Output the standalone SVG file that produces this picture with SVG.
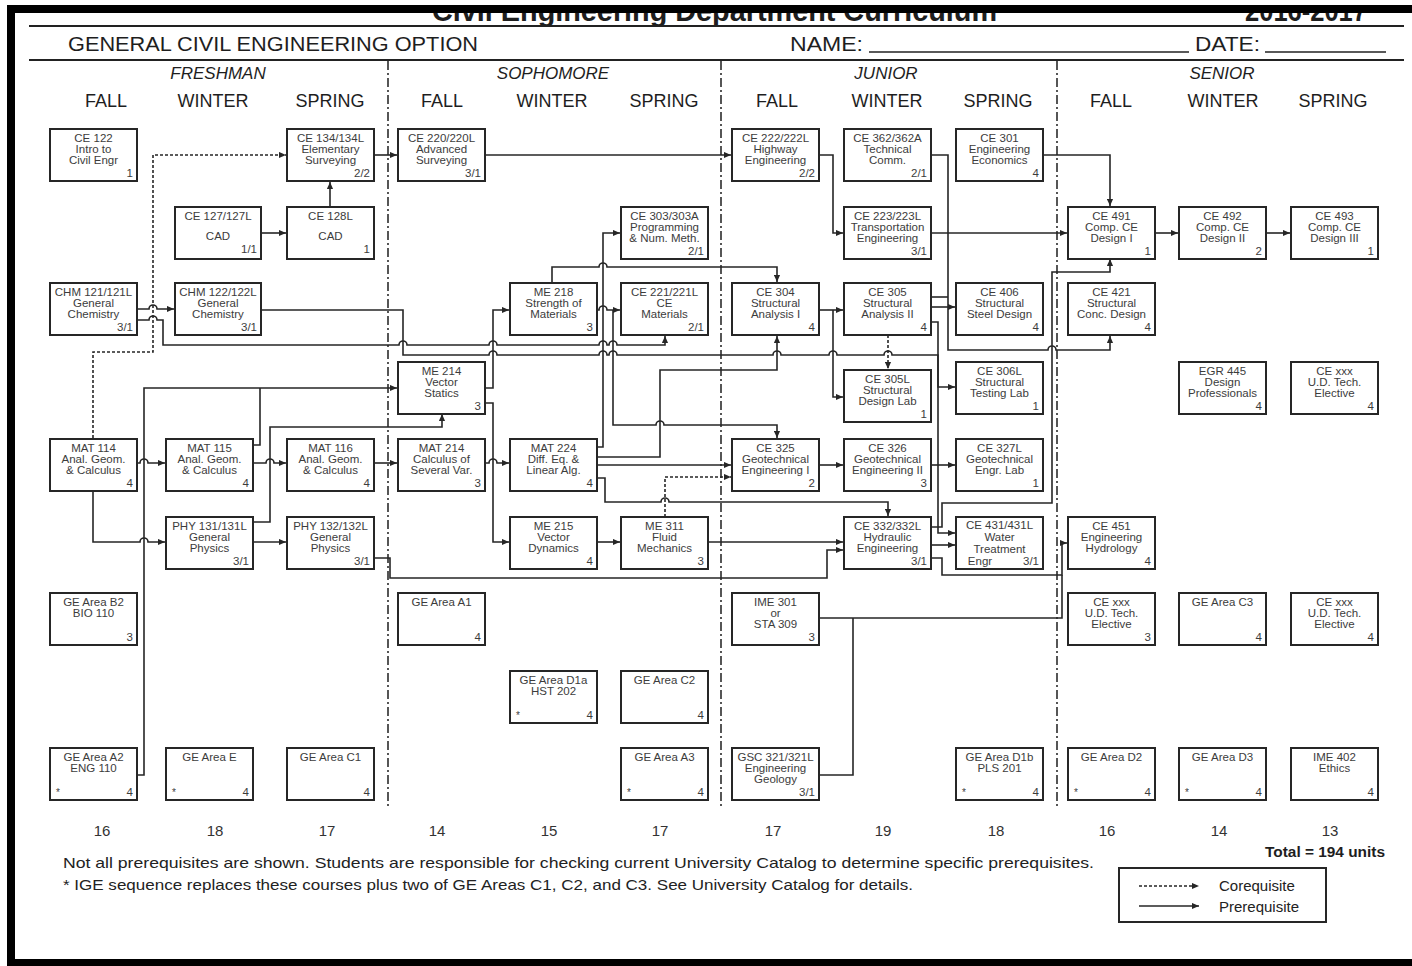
<svg xmlns="http://www.w3.org/2000/svg" width="1412" height="966" viewBox="0 0 1412 966">
<style>
.bx{fill:#fff;stroke:#262626;stroke-width:2}
.t{font-family:"Liberation Sans",Arial,sans-serif;font-size:11.5px;fill:#3c3c3c;text-anchor:middle}
.u{font-family:"Liberation Sans",Arial,sans-serif;font-size:11.5px;fill:#3c3c3c;text-anchor:end}
.st{font-family:"Liberation Sans",Arial,sans-serif;font-size:10px;fill:#3c3c3c;text-anchor:start}
.c{fill:none;stroke:#262626;stroke-width:1.6;marker-end:url(#ah)}
.j{fill:none;stroke:#262626;stroke-width:1.6}
.d{stroke-dasharray:3,2}
.sep{fill:none;stroke:#444;stroke-width:1.8;stroke-dasharray:9,3,2,3}
.hd{font-family:"Liberation Sans",Arial,sans-serif;fill:#1e1e1e}
.yr{font-family:"Liberation Sans",Arial,sans-serif;font-style:italic;font-size:17px;fill:#1e1e1e;text-anchor:middle}
.tm{font-family:"Liberation Sans",Arial,sans-serif;font-size:18px;fill:#1e1e1e;text-anchor:middle}
.un{font-family:"Liberation Sans",Arial,sans-serif;font-size:15px;fill:#333;text-anchor:middle}
.ft{font-family:"Liberation Sans",Arial,sans-serif;font-size:15px;fill:#222}
</style>
<defs>
<marker id="ah" viewBox="0 0 8 8" refX="8" refY="4" markerWidth="7" markerHeight="7" markerUnits="userSpaceOnUse" orient="auto"><path d="M0,0.5 L8,4 L0,7.5z" fill="#262626"/></marker>
</defs>
<rect x="0" y="0" width="1412" height="966" fill="#fff"/>
<g id="header">
<text class="hd" x="432" y="21" font-size="30" font-weight="bold" textLength="565" lengthAdjust="spacingAndGlyphs">Civil Engineering Department Curriculum</text>
<text class="hd" x="1245" y="21" font-size="30" font-weight="bold" textLength="122" lengthAdjust="spacingAndGlyphs">2016-2017</text>
<rect x="0" y="0" width="1412" height="5" fill="#fff"/>
<rect x="7" y="5" width="1405" height="8" fill="#000"/>
<rect x="7" y="5" width="8" height="961" fill="#000"/>
<rect x="7" y="959" width="1405" height="7" fill="#000"/>
<line x1="29" y1="26" x2="1404" y2="26" stroke="#222" stroke-width="2"/>
<line x1="29" y1="60" x2="1404" y2="60" stroke="#222" stroke-width="2"/>
<text class="hd" x="68" y="51" font-size="21" textLength="410" lengthAdjust="spacingAndGlyphs">GENERAL CIVIL ENGINEERING OPTION</text>
<text class="hd" x="790" y="51" font-size="21" textLength="73" lengthAdjust="spacingAndGlyphs">NAME:</text>
<line x1="869" y1="52" x2="1189" y2="52" stroke="#222" stroke-width="1.5"/>
<text class="hd" x="1195" y="51" font-size="21" textLength="65" lengthAdjust="spacingAndGlyphs">DATE:</text>
<line x1="1265" y1="52" x2="1386" y2="52" stroke="#222" stroke-width="1.5"/>
<text class="yr" x="218" y="79">FRESHMAN</text>
<text class="yr" x="553" y="79">SOPHOMORE</text>
<text class="yr" x="886" y="79">JUNIOR</text>
<text class="yr" x="1222" y="79">SENIOR</text>
<text class="tm" x="106" y="107">FALL</text>
<text class="tm" x="213" y="107">WINTER</text>
<text class="tm" x="330" y="107">SPRING</text>
<text class="tm" x="442" y="107">FALL</text>
<text class="tm" x="552" y="107">WINTER</text>
<text class="tm" x="664" y="107">SPRING</text>
<text class="tm" x="777" y="107">FALL</text>
<text class="tm" x="887" y="107">WINTER</text>
<text class="tm" x="998" y="107">SPRING</text>
<text class="tm" x="1111" y="107">FALL</text>
<text class="tm" x="1223" y="107">WINTER</text>
<text class="tm" x="1333" y="107">SPRING</text>
</g>
<g id="separators">
<line class="sep" x1="388" y1="61" x2="388" y2="807"/>
<line class="sep" x1="721" y1="61" x2="721" y2="807"/>
<line class="sep" x1="1057" y1="61" x2="1057" y2="807"/>
</g>
<g id="connectors">
<path class="c d" d="M93,438 V352 H153 V155 H286"/>
<path class="c" d="M261,233 H286"/>
<path class="c" d="M330,207 V182"/>
<path class="c" d="M373,155 H397"/>
<path class="c" d="M485,155 H731"/>
<path class="c" d="M137,309 H149 a4,4 0 0 1 8,0 H174"/>
<path class="c" d="M137,320 H149 a4,4 0 0 1 8,0 H163 V345 H399 a4,4 0 0 1 8,0 H489 a4,4 0 0 1 8,0 H599 a4,4 0 0 1 8,0 H609 a4,4 0 0 1 8,0 H665 V336"/>
<path class="c" d="M261,310 H403 V355 H489 a4,4 0 0 1 8,0 H599 a4,4 0 0 1 8,0 H609 a4,4 0 0 1 8,0 H773 a4,4 0 0 1 8,0 H829 a4,4 0 0 1 8,0 H884 a4,4 0 0 1 8,0 H938 V533 H955"/>
<path class="c" d="M932,322 H938 V387 H955"/>
<path class="c" d="M137,775 H144 V388 H397"/>
<path class="j" d="M253,445 H260 V388"/>
<path class="c" d="M137,463 H140 a4,4 0 0 1 8,0 H165"/>
<path class="c" d="M93,491 V542 H140 a4,4 0 0 1 8,0 H165"/>
<path class="c" d="M253,463 H266 a4,4 0 0 1 8,0 H286"/>
<path class="c" d="M253,542 H286"/>
<path class="c" d="M253,522 H270 V427 H442 V414"/>
<path class="c" d="M373,463 H397"/>
<path class="c" d="M485,388 H493 V310 H509"/>
<path class="c" d="M485,403 H493 V542 H509"/>
<path class="c" d="M485,463 H489 a4,4 0 0 1 8,0 H509"/>
<path class="c" d="M552,283 V267 H599 a4,4 0 0 1 8,0 H777 V282"/>
<path class="c" d="M597,310 H599 a4,4 0 0 1 8,0 H620"/>
<path class="c" d="M613,310 V425 H656 a4,4 0 0 1 8,0 H777 V438"/>
<path class="c" d="M597,447 H603 V233 H620"/>
<path class="c" d="M597,457 H660 V370 H777 V336"/>
<path class="c" d="M597,465 H731"/>
<path class="c" d="M597,478 H605 V502 H661 a4,4 0 0 1 8,0 H888 V516"/>
<path class="c d" d="M665,517 V477 H731"/>
<path class="c" d="M597,542 H620"/>
<path class="c" d="M708,542 H843"/>
<path class="c" d="M373,558 H390 V578 H827 V550 H843"/>
<path class="c" d="M820,155 H833 V233 H843"/>
<path class="c" d="M932,233 H1067"/>
<path class="c" d="M820,310 H843"/>
<path class="c" d="M833,310 V397 H843"/>
<path class="c d" d="M888,335 V369"/>
<path class="c" d="M932,155 H948 V350 H1048 a4,4 0 0 1 8,0 H1110 V336"/>
<path class="j" d="M932,297 H948"/>
<path class="c" d="M932,307 H955"/>
<path class="c" d="M820,465 H843"/>
<path class="c" d="M932,465 H955"/>
<path class="c" d="M932,527 H942 V503 H1052 V272 H1110 V259"/>
<path class="c" d="M932,545 H955"/>
<path class="c" d="M932,558 H942 V575 H1062 V543 H1067"/>
<path class="j" d="M820,618 H1062 V575"/>
<path class="j" d="M820,775 H853 V618"/>
<path class="c" d="M1043,155 H1110 V206"/>
<path class="c" d="M1155,233 H1178"/>
<path class="c" d="M1265,233 H1290"/>
</g>
<g id="ce122"><rect class="bx" x="50" y="129" width="87" height="52"/><text class="t" x="93.5" y="142">CE 122</text><text class="t" x="93.5" y="153">Intro to</text><text class="t" x="93.5" y="164">Civil Engr</text><text class="u" x="133" y="177">1</text></g>
<g id="ce134"><rect class="bx" x="287" y="129" width="87" height="52"/><text class="t" x="330.5" y="142">CE 134/134L</text><text class="t" x="330.5" y="153">Elementary</text><text class="t" x="330.5" y="164">Surveying</text><text class="u" x="370" y="177">2/2</text></g>
<g id="ce127"><rect class="bx" x="175" y="207" width="86" height="52"/><text class="t" x="218" y="220">CE 127/127L</text><text class="t" x="218" y="240">CAD</text><text class="u" x="257" y="253">1/1</text></g>
<g id="ce128l"><rect class="bx" x="287" y="207" width="87" height="52"/><text class="t" x="330.5" y="220">CE 128L</text><text class="t" x="330.5" y="240">CAD</text><text class="u" x="370" y="253">1</text></g>
<g id="chm121"><rect class="bx" x="50" y="283" width="87" height="52"/><text class="t" x="93.5" y="296">CHM 121/121L</text><text class="t" x="93.5" y="307">General</text><text class="t" x="93.5" y="318">Chemistry</text><text class="u" x="133" y="331">3/1</text></g>
<g id="chm122"><rect class="bx" x="175" y="283" width="86" height="52"/><text class="t" x="218" y="296">CHM 122/122L</text><text class="t" x="218" y="307">General</text><text class="t" x="218" y="318">Chemistry</text><text class="u" x="257" y="331">3/1</text></g>
<g id="mat114"><rect class="bx" x="50" y="439" width="87" height="52"/><text class="t" x="93.5" y="452">MAT 114</text><text class="t" x="93.5" y="463">Anal. Geom.</text><text class="t" x="93.5" y="474">&amp; Calculus</text><text class="u" x="133" y="487">4</text></g>
<g id="mat115"><rect class="bx" x="166" y="439" width="87" height="52"/><text class="t" x="209.5" y="452">MAT 115</text><text class="t" x="209.5" y="463">Anal. Geom.</text><text class="t" x="209.5" y="474">&amp; Calculus</text><text class="u" x="249" y="487">4</text></g>
<g id="mat116"><rect class="bx" x="287" y="439" width="87" height="52"/><text class="t" x="330.5" y="452">MAT 116</text><text class="t" x="330.5" y="463">Anal. Geom.</text><text class="t" x="330.5" y="474">&amp; Calculus</text><text class="u" x="370" y="487">4</text></g>
<g id="phy131"><rect class="bx" x="166" y="517" width="87" height="52"/><text class="t" x="209.5" y="530">PHY 131/131L</text><text class="t" x="209.5" y="541">General</text><text class="t" x="209.5" y="552">Physics</text><text class="u" x="249" y="565">3/1</text></g>
<g id="phy132"><rect class="bx" x="287" y="517" width="87" height="52"/><text class="t" x="330.5" y="530">PHY 132/132L</text><text class="t" x="330.5" y="541">General</text><text class="t" x="330.5" y="552">Physics</text><text class="u" x="370" y="565">3/1</text></g>
<g id="geb2"><rect class="bx" x="50" y="593" width="87" height="52"/><text class="t" x="93.5" y="606">GE Area B2</text><text class="t" x="93.5" y="617">BIO 110</text><text class="u" x="133" y="641">3</text></g>
<g id="gea2"><rect class="bx" x="50" y="748" width="87" height="52"/><text class="t" x="93.5" y="761">GE Area A2</text><text class="t" x="93.5" y="772">ENG 110</text><text class="st" x="56" y="796">*</text><text class="u" x="133" y="796">4</text></g>
<g id="gee"><rect class="bx" x="166" y="748" width="87" height="52"/><text class="t" x="209.5" y="761">GE Area E</text><text class="st" x="172" y="796">*</text><text class="u" x="249" y="796">4</text></g>
<g id="gec1"><rect class="bx" x="287" y="748" width="87" height="52"/><text class="t" x="330.5" y="761">GE Area C1</text><text class="u" x="370" y="796">4</text></g>
<g id="ce220"><rect class="bx" x="398" y="129" width="87" height="52"/><text class="t" x="441.5" y="142">CE 220/220L</text><text class="t" x="441.5" y="153">Advanced</text><text class="t" x="441.5" y="164">Surveying</text><text class="u" x="481" y="177">3/1</text></g>
<g id="me214"><rect class="bx" x="398" y="362" width="87" height="52"/><text class="t" x="441.5" y="375">ME 214</text><text class="t" x="441.5" y="386">Vector</text><text class="t" x="441.5" y="397">Statics</text><text class="u" x="481" y="410">3</text></g>
<g id="mat214"><rect class="bx" x="398" y="439" width="87" height="52"/><text class="t" x="441.5" y="452">MAT 214</text><text class="t" x="441.5" y="463">Calculus of</text><text class="t" x="441.5" y="474">Several Var.</text><text class="u" x="481" y="487">3</text></g>
<g id="gea1"><rect class="bx" x="398" y="593" width="87" height="52"/><text class="t" x="441.5" y="606">GE Area A1</text><text class="u" x="481" y="641">4</text></g>
<g id="me218"><rect class="bx" x="510" y="283" width="87" height="52"/><text class="t" x="553.5" y="296">ME 218</text><text class="t" x="553.5" y="307">Strength of</text><text class="t" x="553.5" y="318">Materials</text><text class="u" x="593" y="331">3</text></g>
<g id="mat224"><rect class="bx" x="510" y="439" width="87" height="52"/><text class="t" x="553.5" y="452">MAT 224</text><text class="t" x="553.5" y="463">Diff. Eq. &amp;</text><text class="t" x="553.5" y="474">Linear Alg.</text><text class="u" x="593" y="487">4</text></g>
<g id="me215"><rect class="bx" x="510" y="517" width="87" height="52"/><text class="t" x="553.5" y="530">ME 215</text><text class="t" x="553.5" y="541">Vector</text><text class="t" x="553.5" y="552">Dynamics</text><text class="u" x="593" y="565">4</text></g>
<g id="ged1a"><rect class="bx" x="510" y="671" width="87" height="52"/><text class="t" x="553.5" y="684">GE Area D1a</text><text class="t" x="553.5" y="695">HST 202</text><text class="st" x="516" y="719">*</text><text class="u" x="593" y="719">4</text></g>
<g id="ce303"><rect class="bx" x="621" y="207" width="87" height="52"/><text class="t" x="664.5" y="220">CE 303/303A</text><text class="t" x="664.5" y="231">Programming</text><text class="t" x="664.5" y="242">&amp; Num. Meth.</text><text class="u" x="704" y="255">2/1</text></g>
<g id="ce221"><rect class="bx" x="621" y="283" width="87" height="52"/><text class="t" x="664.5" y="296">CE 221/221L</text><text class="t" x="664.5" y="307">CE</text><text class="t" x="664.5" y="318">Materials</text><text class="u" x="704" y="331">2/1</text></g>
<g id="me311"><rect class="bx" x="621" y="517" width="87" height="52"/><text class="t" x="664.5" y="530">ME 311</text><text class="t" x="664.5" y="541">Fluid</text><text class="t" x="664.5" y="552">Mechanics</text><text class="u" x="704" y="565">3</text></g>
<g id="gec2"><rect class="bx" x="621" y="671" width="87" height="52"/><text class="t" x="664.5" y="684">GE Area C2</text><text class="u" x="704" y="719">4</text></g>
<g id="gea3"><rect class="bx" x="621" y="748" width="87" height="52"/><text class="t" x="664.5" y="761">GE Area A3</text><text class="st" x="627" y="796">*</text><text class="u" x="704" y="796">4</text></g>
<g id="ce222"><rect class="bx" x="732" y="129" width="87" height="52"/><text class="t" x="775.5" y="142">CE 222/222L</text><text class="t" x="775.5" y="153">Highway</text><text class="t" x="775.5" y="164">Engineering</text><text class="u" x="815" y="177">2/2</text></g>
<g id="ce304"><rect class="bx" x="732" y="283" width="87" height="52"/><text class="t" x="775.5" y="296">CE 304</text><text class="t" x="775.5" y="307">Structural</text><text class="t" x="775.5" y="318">Analysis I</text><text class="u" x="815" y="331">4</text></g>
<g id="ce325"><rect class="bx" x="732" y="439" width="87" height="52"/><text class="t" x="775.5" y="452">CE 325</text><text class="t" x="775.5" y="463">Geotechnical</text><text class="t" x="775.5" y="474">Engineering I</text><text class="u" x="815" y="487">2</text></g>
<g id="ime301"><rect class="bx" x="732" y="593" width="87" height="52"/><text class="t" x="775.5" y="606">IME 301</text><text class="t" x="775.5" y="617">or</text><text class="t" x="775.5" y="628">STA 309</text><text class="u" x="815" y="641">3</text></g>
<g id="gsc321"><rect class="bx" x="732" y="748" width="87" height="52"/><text class="t" x="775.5" y="761">GSC 321/321L</text><text class="t" x="775.5" y="772">Engineering</text><text class="t" x="775.5" y="783">Geology</text><text class="u" x="815" y="796">3/1</text></g>
<g id="ce362"><rect class="bx" x="844" y="129" width="87" height="52"/><text class="t" x="887.5" y="142">CE 362/362A</text><text class="t" x="887.5" y="153">Technical</text><text class="t" x="887.5" y="164">Comm.</text><text class="u" x="927" y="177">2/1</text></g>
<g id="ce223"><rect class="bx" x="844" y="207" width="87" height="52"/><text class="t" x="887.5" y="220">CE 223/223L</text><text class="t" x="887.5" y="231">Transportation</text><text class="t" x="887.5" y="242">Engineering</text><text class="u" x="927" y="255">3/1</text></g>
<g id="ce305"><rect class="bx" x="844" y="283" width="87" height="52"/><text class="t" x="887.5" y="296">CE 305</text><text class="t" x="887.5" y="307">Structural</text><text class="t" x="887.5" y="318">Analysis II</text><text class="u" x="927" y="331">4</text></g>
<g id="ce305l"><rect class="bx" x="844" y="370" width="87" height="52"/><text class="t" x="887.5" y="383">CE 305L</text><text class="t" x="887.5" y="394">Structural</text><text class="t" x="887.5" y="405">Design Lab</text><text class="u" x="927" y="418">1</text></g>
<g id="ce326"><rect class="bx" x="844" y="439" width="87" height="52"/><text class="t" x="887.5" y="452">CE 326</text><text class="t" x="887.5" y="463">Geotechnical</text><text class="t" x="887.5" y="474">Engineering II</text><text class="u" x="927" y="487">3</text></g>
<g id="ce332"><rect class="bx" x="844" y="517" width="87" height="52"/><text class="t" x="887.5" y="530">CE 332/332L</text><text class="t" x="887.5" y="541">Hydraulic</text><text class="t" x="887.5" y="552">Engineering</text><text class="u" x="927" y="565">3/1</text></g>
<g id="ce301"><rect class="bx" x="956" y="129" width="87" height="52"/><text class="t" x="999.5" y="142">CE 301</text><text class="t" x="999.5" y="153">Engineering</text><text class="t" x="999.5" y="164">Economics</text><text class="u" x="1039" y="177">4</text></g>
<g id="ce406"><rect class="bx" x="956" y="283" width="87" height="52"/><text class="t" x="999.5" y="296">CE 406</text><text class="t" x="999.5" y="307">Structural</text><text class="t" x="999.5" y="318">Steel Design</text><text class="u" x="1039" y="331">4</text></g>
<g id="ce306l"><rect class="bx" x="956" y="362" width="87" height="52"/><text class="t" x="999.5" y="375">CE 306L</text><text class="t" x="999.5" y="386">Structural</text><text class="t" x="999.5" y="397">Testing Lab</text><text class="u" x="1039" y="410">1</text></g>
<g id="ce327l"><rect class="bx" x="956" y="439" width="87" height="52"/><text class="t" x="999.5" y="452">CE 327L</text><text class="t" x="999.5" y="463">Geotechnical</text><text class="t" x="999.5" y="474">Engr. Lab</text><text class="u" x="1039" y="487">1</text></g>
<g id="ce431"><rect class="bx" x="956" y="517" width="87" height="52"/><text class="t" x="999.5" y="529">CE 431/431L</text><text class="t" x="999.5" y="541">Water</text><text class="t" x="999.5" y="553">Treatment</text><text class="t" x="980" y="565">Engr</text><text class="u" x="1039" y="565">3/1</text></g>
<g id="ged1b"><rect class="bx" x="956" y="748" width="87" height="52"/><text class="t" x="999.5" y="761">GE Area D1b</text><text class="t" x="999.5" y="772">PLS 201</text><text class="st" x="962" y="796">*</text><text class="u" x="1039" y="796">4</text></g>
<g id="ce491"><rect class="bx" x="1068" y="207" width="87" height="52"/><text class="t" x="1111.5" y="220">CE 491</text><text class="t" x="1111.5" y="231">Comp. CE</text><text class="t" x="1111.5" y="242">Design I</text><text class="u" x="1151" y="255">1</text></g>
<g id="ce421"><rect class="bx" x="1068" y="283" width="87" height="52"/><text class="t" x="1111.5" y="296">CE 421</text><text class="t" x="1111.5" y="307">Structural</text><text class="t" x="1111.5" y="318">Conc. Design</text><text class="u" x="1151" y="331">4</text></g>
<g id="ce451"><rect class="bx" x="1068" y="517" width="87" height="52"/><text class="t" x="1111.5" y="530">CE 451</text><text class="t" x="1111.5" y="541">Engineering</text><text class="t" x="1111.5" y="552">Hydrology</text><text class="u" x="1151" y="565">4</text></g>
<g id="cexxx1"><rect class="bx" x="1068" y="593" width="87" height="52"/><text class="t" x="1111.5" y="606">CE xxx</text><text class="t" x="1111.5" y="617">U.D. Tech.</text><text class="t" x="1111.5" y="628">Elective</text><text class="u" x="1151" y="641">3</text></g>
<g id="ged2"><rect class="bx" x="1068" y="748" width="87" height="52"/><text class="t" x="1111.5" y="761">GE Area D2</text><text class="st" x="1074" y="796">*</text><text class="u" x="1151" y="796">4</text></g>
<g id="ce492"><rect class="bx" x="1179" y="207" width="87" height="52"/><text class="t" x="1222.5" y="220">CE 492</text><text class="t" x="1222.5" y="231">Comp. CE</text><text class="t" x="1222.5" y="242">Design II</text><text class="u" x="1262" y="255">2</text></g>
<g id="egr445"><rect class="bx" x="1179" y="362" width="87" height="52"/><text class="t" x="1222.5" y="375">EGR 445</text><text class="t" x="1222.5" y="386">Design</text><text class="t" x="1222.5" y="397">Professionals</text><text class="u" x="1262" y="410">4</text></g>
<g id="gec3"><rect class="bx" x="1179" y="593" width="87" height="52"/><text class="t" x="1222.5" y="606">GE Area C3</text><text class="u" x="1262" y="641">4</text></g>
<g id="ged3"><rect class="bx" x="1179" y="748" width="87" height="52"/><text class="t" x="1222.5" y="761">GE Area D3</text><text class="st" x="1185" y="796">*</text><text class="u" x="1262" y="796">4</text></g>
<g id="ce493"><rect class="bx" x="1291" y="207" width="87" height="52"/><text class="t" x="1334.5" y="220">CE 493</text><text class="t" x="1334.5" y="231">Comp. CE</text><text class="t" x="1334.5" y="242">Design III</text><text class="u" x="1374" y="255">1</text></g>
<g id="cexxx2"><rect class="bx" x="1291" y="362" width="87" height="52"/><text class="t" x="1334.5" y="375">CE xxx</text><text class="t" x="1334.5" y="386">U.D. Tech.</text><text class="t" x="1334.5" y="397">Elective</text><text class="u" x="1374" y="410">4</text></g>
<g id="cexxx3"><rect class="bx" x="1291" y="593" width="87" height="52"/><text class="t" x="1334.5" y="606">CE xxx</text><text class="t" x="1334.5" y="617">U.D. Tech.</text><text class="t" x="1334.5" y="628">Elective</text><text class="u" x="1374" y="641">4</text></g>
<g id="ime402"><rect class="bx" x="1291" y="748" width="87" height="52"/><text class="t" x="1334.5" y="761">IME 402</text><text class="t" x="1334.5" y="772">Ethics</text><text class="u" x="1374" y="796">4</text></g>
<g id="units">
<text class="un" x="102" y="836">16</text>
<text class="un" x="215" y="836">18</text>
<text class="un" x="327" y="836">17</text>
<text class="un" x="437" y="836">14</text>
<text class="un" x="549" y="836">15</text>
<text class="un" x="660" y="836">17</text>
<text class="un" x="773" y="836">17</text>
<text class="un" x="883" y="836">19</text>
<text class="un" x="996" y="836">18</text>
<text class="un" x="1107" y="836">16</text>
<text class="un" x="1219" y="836">14</text>
<text class="un" x="1330" y="836">13</text>
<text class="hd" x="1265" y="857" font-size="14" font-weight="bold" textLength="120" lengthAdjust="spacingAndGlyphs">Total = 194 units</text>
</g>
<g id="footer">
<text class="ft" x="63" y="868" textLength="1031" lengthAdjust="spacingAndGlyphs">Not all prerequisites are shown.  Students are responsible for checking current University Catalog to determine specific prerequisites.</text>
<text class="ft" x="63" y="890" textLength="850" lengthAdjust="spacingAndGlyphs">* IGE sequence replaces these courses plus two of GE Areas C1, C2, and C3.  See University Catalog for details.</text>
</g>
<g id="legend">
<rect x="1119" y="868" width="207" height="54" fill="#fff" stroke="#262626" stroke-width="2"/>
<path class="c d" d="M1139,886 H1199"/>
<path class="c" d="M1139,906 H1199"/>
<text class="ft" x="1219" y="891">Corequisite</text>
<text class="ft" x="1219" y="912">Prerequisite</text>
</g>
</svg>
